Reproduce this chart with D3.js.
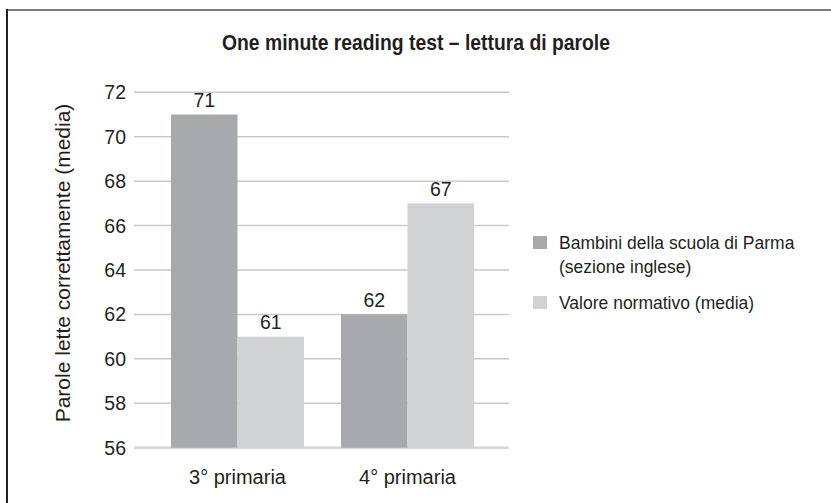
<!DOCTYPE html>
<html><head><meta charset="utf-8">
<script src="https://cdn.jsdelivr.net/npm/d3@7"></script>
<style>
html,body{margin:0;padding:0;background:#fff;}
svg{display:block;}
text{font-family:"Liberation Sans",Arial,sans-serif;fill:#231f20;}
</style></head>
<body>
<script>
const title = "One minute reading test – lettura di parole";
const yTitle = "Parole lette correttamente (media)";
const categories = ["3° primaria", "4° primaria"];
const seriesNames = ["Bambini della scuola di Parma", "Valore normativo (media)"];
const legendLines = [["Bambini della scuola di Parma", "(sezione inglese)"], ["Valore normativo (media)"]];
const parmaValues = [71, 62];
const normValues = [61, 67];
const yTicks = [56, 58, 60, 62, 64, 66, 68, 70, 72];
const colors = ["#a8a9ac", "#d1d2d4"];

const W = 831, H = 503;
const svg = d3.select("body").append("svg").attr("width", W).attr("height", H);

// frame
svg.append("line").attr("x1", 7).attr("x2", W).attr("y1", 10).attr("y2", 10)
  .attr("stroke", "#7a7a7a").attr("stroke-width", 2);
svg.append("line").attr("x1", 7).attr("x2", 7).attr("y1", 9).attr("y2", H)
  .attr("stroke", "#231f20").attr("stroke-width", 2);

const plotLeft = 134, plotRight = 509;
const y = d3.scaleLinear().domain([56, 72]).range([447.7, 92.3]);
const x0 = d3.scaleBand().domain(categories).range([171, 474]).paddingInner(37/170).paddingOuter(0);
const x1 = d3.scaleBand().domain(seriesNames).range([0, x0.bandwidth()]).padding(0);

// gridlines
svg.append("g").selectAll("line").data(yTicks).join("line")
  .attr("x1", plotLeft).attr("x2", plotRight)
  .attr("y1", d => y(d)).attr("y2", d => y(d))
  .attr("stroke", d => d === 56 ? "#d4d4d4" : "#c9c9c9")
  .attr("stroke-width", d => d === 56 ? 2.5 : 1.5);

// y tick labels
svg.append("g").selectAll("text").data(yTicks).join("text")
  .attr("x", 126).attr("y", d => y(d)).attr("dy", "0.36em")
  .attr("text-anchor", "end").style("font-size", "19.5px").text(d => d);

// data rows
const rows = categories.map((c, i) => ({cat: c, vals: [parmaValues[i], normValues[i]]}));
const groups = svg.append("g").selectAll("g").data(rows).join("g")
  .attr("transform", d => `translate(${x0(d.cat)},0)`);
groups.selectAll("rect").data(d => d.vals.map((v, j) => ({s: seriesNames[j], v, j}))).join("rect")
  .attr("x", d => x1(d.s)).attr("width", x1.bandwidth())
  .attr("y", d => y(d.v)).attr("height", d => y(56) - y(d.v))
  .attr("fill", d => colors[d.j]);
groups.selectAll("text.val").data(d => d.vals.map((v, j) => ({s: seriesNames[j], v, j}))).join("text")
  .attr("class", "val")
  .attr("x", d => x1(d.s) + x1.bandwidth()/2).attr("y", d => y(d.v) - 7.5)
  .attr("text-anchor", "middle").style("font-size", "19.5px").text(d => d.v);

// x labels
svg.append("g").selectAll("text").data(categories).join("text")
  .attr("x", d => x0(d) + x0.bandwidth()/2).attr("y", 484)
  .attr("text-anchor", "middle").style("font-size", "20px").text(d => d);

// y title
svg.append("text").attr("transform", "translate(70,263) rotate(-90)")
  .attr("text-anchor", "middle").style("font-size", "21px").text(yTitle);

// title
svg.append("text").attr("x", 416).attr("y", 50).attr("text-anchor", "middle")
  .attr("textLength", 388).attr("lengthAdjust", "spacingAndGlyphs")
  .style("font-weight", "bold").style("font-size", "21.5px").text(title);

// legend
const legendY = [236, 296];
const lg = svg.append("g").selectAll("g").data(legendLines).join("g")
  .attr("transform", (d, i) => `translate(533,${legendY[i]})`);
lg.append("rect").attr("width", 14).attr("height", 13).attr("fill", (d, i) => colors[i]);
lg.selectAll("text").data(d => d).join("text")
  .attr("x", 26).attr("y", (d, k) => 13 + k * 24)
  .style("font-size", "17.5px").text(d => d);
</script>
</body></html>
